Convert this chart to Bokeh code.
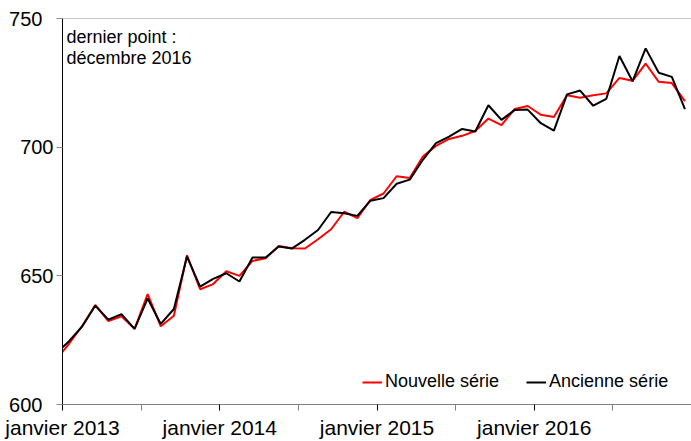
from bokeh.plotting import figure
from bokeh.models import Range1d, FixedTicker, Legend, LegendItem, Label, Span
from bokeh.embed import file_html
from bokeh.resources import INLINE

# Monthly series, December 2012 to December 2016
months = [
    "2012-12",
    "2013-01", "2013-02", "2013-03", "2013-04", "2013-05", "2013-06",
    "2013-07", "2013-08", "2013-09", "2013-10", "2013-11", "2013-12",
    "2014-01", "2014-02", "2014-03", "2014-04", "2014-05", "2014-06",
    "2014-07", "2014-08", "2014-09", "2014-10", "2014-11", "2014-12",
    "2015-01", "2015-02", "2015-03", "2015-04", "2015-05", "2015-06",
    "2015-07", "2015-08", "2015-09", "2015-10", "2015-11", "2015-12",
    "2016-01", "2016-02", "2016-03", "2016-04", "2016-05", "2016-06",
    "2016-07", "2016-08", "2016-09", "2016-10", "2016-11", "2016-12",
]

nouvelle_serie = [
    617.3,
    623.6, 630.5, 638.7, 632.4, 634.3, 629.4, 642.9, 630.4, 634.5, 658.0, 644.8, 646.8,
    651.8, 650.0, 655.8, 656.8, 661.6, 660.7, 660.6, 664.2, 668.1, 674.9, 672.4, 679.5,
    682.0, 688.7, 688.0, 696.4, 700.5, 703.2, 704.4, 706.3, 711.1, 708.6, 714.8, 716.0,
    712.6, 711.7, 720.2, 719.2, 720.2, 720.9, 726.9, 725.8, 732.5, 725.4, 724.9, 717.9,
]

ancienne_serie = [
    619.8,
    624.6, 630.3, 638.4, 633.0, 635.1, 629.4, 641.2, 631.3, 637.1, 657.5, 645.8, 648.8,
    651.0, 647.8, 657.1, 657.1, 661.4, 660.6, 664.0, 667.8, 674.8, 674.3, 673.3, 679.2,
    680.2, 685.8, 687.4, 695.1, 701.6, 704.1, 707.1, 706.1, 716.3, 710.6, 714.4, 714.6,
    709.3, 706.4, 720.5, 722.0, 716.1, 718.8, 735.4, 725.6, 738.4, 728.9, 727.3, 714.8,
]

y_ticks = [600, 650, 700, 750]
y_tick_labels = ["600\u00a0\u00a0", "650", "700", "750\u00a0\u00a0"]
x_tick_labels = ["janvier 2013", "janvier 2014", "janvier 2015", "janvier 2016"]
legend_labels = ["Nouvelle série", "Ancienne série"]
note_lines = ["dernier point :", "décembre 2016"]

FONT = "Liberation Sans"
FS = "18px"
Y_FS = "20px"
X_FS = "21px"

# x position: month index from January 2013, placed mid-month
x = [i - 0.5 for i in range(len(months))]

p = figure(
    width=691, height=441,
    output_backend="svg", toolbar_location=None,
    x_range=Range1d(0, 48), y_range=Range1d(600, 750),
    min_border_left=62, min_border_right=0,
    min_border_top=18, min_border_bottom=35,
)
p.grid.visible = False
p.outline_line_color = None
p.background_fill_color = "white"
p.border_fill_color = "white"

r_new = p.line(x, nouvelle_serie, line_color="#ff0000", line_width=2)
r_old = p.line(x, ancienne_serie, line_color="#000000", line_width=2)

# top border line
p.add_layout(Span(location=750, dimension="width", line_color="#8c8c8c", line_width=1))

# y axis
ya = p.yaxis[0]
ya.ticker = FixedTicker(ticks=y_ticks)
ya.major_label_overrides = {t: lab for t, lab in zip(y_ticks, y_tick_labels)}
ya.axis_line_color = "#000000"
ya.major_tick_line_color = "#8c8c8c"
ya.major_tick_out = 6
ya.major_tick_in = 0
ya.minor_tick_line_color = None
ya.major_label_text_font = FONT
ya.major_label_text_font_size = Y_FS
ya.major_label_text_color = "#000000"
ya.major_label_standoff = 3

# x axis
xa = p.xaxis[0]
year_ticks = [12 * i for i in range(len(x_tick_labels))]
half_ticks = [12 * i + 6 for i in range(len(x_tick_labels))]
xa.ticker = FixedTicker(ticks=year_ticks, minor_ticks=half_ticks)
xa.major_label_overrides = {t: lab for t, lab in zip(year_ticks, x_tick_labels)}
xa.axis_line_color = "#808080"
xa.major_tick_line_color = "#000000"
xa.minor_tick_line_color = "#808080"
xa.major_tick_out = 6
xa.major_tick_in = 0
xa.minor_tick_out = 6
xa.minor_tick_in = 0
xa.major_label_text_font = FONT
xa.major_label_text_font_size = X_FS
xa.major_label_text_color = "#000000"
xa.major_label_standoff = 5

legend = Legend(
    items=[LegendItem(label=legend_labels[0], renderers=[r_new]),
           LegendItem(label=legend_labels[1], renderers=[r_old])],
    orientation="horizontal", location=(300, 12),
    border_line_color=None, background_fill_alpha=0,
    padding=0, margin=0, spacing=27, label_standoff=3,
    glyph_width=20, glyph_height=18,
    label_text_font=FONT, label_text_font_size=FS, label_text_color="#000000",
)
p.add_layout(legend)

for i, line in enumerate(note_lines):
    p.add_layout(Label(
        x=4, y=378 - 21 * i, x_units="screen", y_units="screen",
        text=line, text_baseline="top",
        text_font=FONT, text_font_size=FS, text_color="#000000",
    ))

open("out.html", "w").write(file_html(p, INLINE))
